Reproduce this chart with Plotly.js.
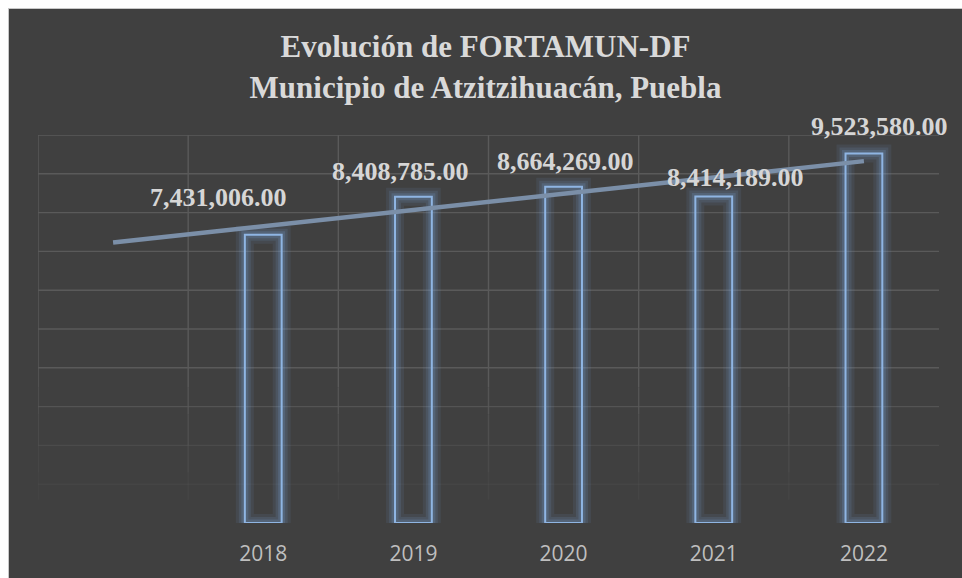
<!DOCTYPE html>
<html>
<head>
<meta charset="utf-8">
<script src="https://cdn.plot.ly/plotly-3.0.1.min.js"></script>
<style>
  html, body { margin: 0; padding: 0; background: #ffffff; width: 962px; height: 578px; overflow: hidden; }
  #frame { position: absolute; left: 8px; top: 8px; width: 954px; height: 570px;
           border-left: 1px solid #c8c8c8; border-top: 1px solid #c8c8c8; background: #404040; }
  #chart { width: 953px; height: 569px; }
</style>
</head>
<body>
<div id="frame"><div id="chart"></div></div>
<script>
// ---- data ----
const years = [2018, 2019, 2020, 2021, 2022];
const values = [7431006.00, 8408785.00, 8664269.00, 8414189.00, 9523580.00];
const tickLabels = ['2018', '2019', '2020', '2021', '2022'];
const titleLines = ['Evolución de FORTAMUN-DF', 'Municipio de Atzitzihuacán, Puebla'];

// ---- label nudges (pixels), style only ----
const labelDX = [-45, -13, 2, 22, 16];
const labelDY = [37, 25, 25, 19, 27];

const fmt = v => v.toLocaleString('en-US', {minimumFractionDigits: 2, maximumFractionDigits: 2});

// linear trendline (least squares) with 1 period backward forecast
const n = years.length;
const mx = years.reduce((a, b) => a + b, 0) / n;
const my = values.reduce((a, b) => a + b, 0) / n;
let sxy = 0, sxx = 0;
for (let i = 0; i < n; i++) { sxy += (years[i] - mx) * (values[i] - my); sxx += (years[i] - mx) ** 2; }
const slope = sxy / sxx;
const icpt = my - slope * mx;
const trendX = [years[0] - 1, years[n - 1]];
const trendY = trendX.map(x => icpt + slope * x);

const xMin = years[0] - 1.5, xMax = years[n - 1] + 0.5;
const yMax = 10000000, yStep = 1000000;

const glowColor = 'rgba(120,160,215,';
const barWidth = 0.245;
function barTrace(lineColor, lineWidth) {
  return {
    type: 'bar', x: years, y: values, width: barWidth,
    marker: {color: 'rgba(0,0,0,0)', line: {color: lineColor, width: lineWidth}},
    hoverinfo: 'skip', showlegend: false
  };
}
const traces = [
  barTrace(glowColor + '0.10)', 18),
  barTrace(glowColor + '0.14)', 12),
  barTrace(glowColor + '0.20)', 7),
  barTrace('#8fb5e3', 2),
  {
    type: 'scatter', mode: 'lines', x: trendX, y: trendY,
    line: {color: '#7b8fa8', width: 4.5}, hoverinfo: 'skip', showlegend: false
  }
];

// gridlines as shapes (they fade towards the bottom)
const gridColor = '#5a5a5a';
const shapes = [];
const hOpacity = v => v >= 4e6 ? 1 : (v >= 3e6 ? 0.8 : (v >= 2e6 ? 0.45 : 0.2));
for (let v = yStep; v <= yMax; v += yStep) {
  shapes.push({type: 'line', xref: 'x', yref: 'y', x0: xMin, x1: xMax, y0: v, y1: v,
    line: {color: gridColor, width: 1.4}, opacity: hOpacity(v), layer: 'below'});
}
const vSegs = [[3.5e6, 1e7, 1], [2.8e6, 3.5e6, 0.8], [2.0e6, 2.8e6, 0.6], [1.3e6, 2.0e6, 0.4], [0.6e6, 1.3e6, 0.2]];
for (let k = 0; k <= n; k++) {
  const xv = xMin + k;
  vSegs.forEach(s => shapes.push({type: 'line', xref: 'x', yref: 'y', x0: xv, x1: xv, y0: s[0], y1: s[1],
    line: {color: gridColor, width: 1.4}, opacity: s[2], layer: 'below'}));
}

const annotations = years.map((yr, i) => ({
  x: yr, y: values[i], xref: 'x', yref: 'y', text: fmt(values[i]), showarrow: false,
  xanchor: 'center', yanchor: 'middle', xshift: labelDX[i], yshift: labelDY[i],
  font: {family: '"Liberation Serif", "Times New Roman", serif', size: 26, color: '#d6d6d6', weight: 'bold'}
}));

const layout = {
  width: 953, height: 569,
  paper_bgcolor: '#404040', plot_bgcolor: 'rgba(0,0,0,0)',
  margin: {l: 28.5, r: 23, t: 126, b: 55, pad: 0},
  barmode: 'overlay',
  title: {
    text: '<b>' + titleLines.join('<br>') + '</b>',
    x: 0.5, xref: 'container', xanchor: 'center',
    y: 0.915, yref: 'container', yanchor: 'top',
    font: {family: '"Liberation Serif", "Times New Roman", serif', size: 31, color: '#d9d9d9'}
  },
  xaxis: {
    range: [xMin, xMax], tickmode: 'array', tickvals: years, ticktext: tickLabels,
    showgrid: false, zeroline: false, showline: false, ticks: '', fixedrange: true,
    ticklabelstandoff: 16,
    tickfont: {family: '"Open Sans", "Noto Sans", sans-serif', size: 21, color: '#bfbfbf'}
  },
  yaxis: {
    range: [0, yMax], showgrid: false, zeroline: false, showline: false,
    showticklabels: false, ticks: '', fixedrange: true
  },
  shapes: shapes,
  annotations: annotations,
  showlegend: false
};

Plotly.newPlot('chart', traces, layout, {displayModeBar: false, staticPlot: true});
</script>
</body>
</html>
